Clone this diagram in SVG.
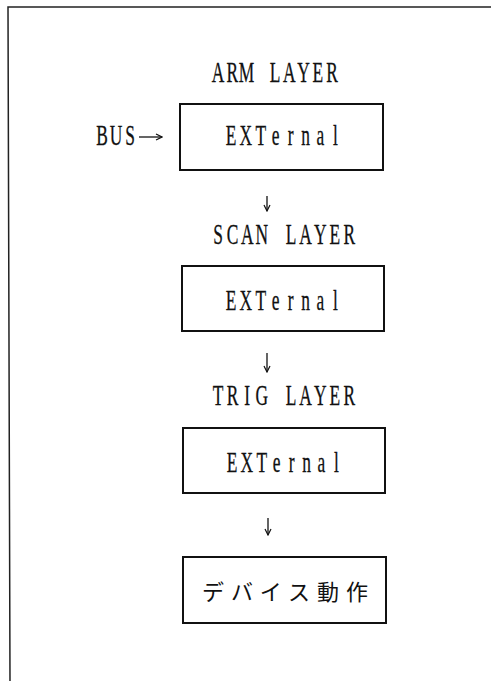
<svg xmlns="http://www.w3.org/2000/svg" width="491" height="681" viewBox="0 0 491 681">
<style>
.lbl{font-family:"Liberation Serif","Times New Roman",serif;font-size:29px;fill:#111;stroke:#111;stroke-width:0.3;text-anchor:middle;}
.jp{font-family:"Noto Sans CJK JP","Noto Sans CJK SC",sans-serif;font-size:22px;fill:#111;}
.box{fill:#fff;stroke:#111;stroke-width:2;}
.conn{fill:none;stroke:#111;stroke-width:1.3;}
</style>
<defs>
<marker id="ah" markerWidth="8" markerHeight="8" refX="7" refY="4" orient="auto" markerUnits="userSpaceOnUse">
<path d="M1,1 L7,4 L1,7" fill="none" stroke="#111" stroke-width="1.2"/>
</marker>
</defs>
<rect width="491" height="681" fill="#fff"/>
<g id="frame">
<path d="M491,7 L8,7 L10,681" fill="none" stroke="#222" stroke-width="1.5"/>
</g>
<g id="arm">
<text class="lbl" transform="translate(218,0) scale(0.6,1)" x="0 23.75 47.5 71.25 95 118.75 142.5 166.25 190" y="82">ARM LAYER</text>
<rect class="box" x="180" y="104" width="203" height="66"/>
<text class="lbl" transform="translate(231,0) scale(0.6,1)" x="0 24.83 49.67 74.5 99.33 124.17 149 173.83" y="145">EXTernal</text>
</g>
<g id="bus">
<text class="lbl" transform="translate(102,0) scale(0.6,1)" x="0 23.33 46.67" y="145">BUS</text>
</g>
<g id="scan">
<text class="lbl" transform="translate(218,0) scale(0.6,1)" x="0 24.33 48.67 73 97.33 121.67 146 170.33 194.67 219" y="244">SCAN LAYER</text>
<rect class="box" x="182" y="266" width="202" height="65"/>
<text class="lbl" transform="translate(231,0) scale(0.6,1)" x="0 24.83 49.67 74.5 99.33 124.17 149 173.83" y="310">EXTernal</text>
</g>
<g id="trig">
<text class="lbl" transform="translate(218,0) scale(0.6,1)" x="0 24.33 48.67 73 97.33 121.67 146 170.33 194.67 219" y="405">TRIG LAYER</text>
<rect class="box" x="183" y="428" width="202" height="65"/>
<text class="lbl" transform="translate(232,0) scale(0.6,1)" x="0 24.83 49.67 74.5 99.33 124.17 149 173.83" y="472">EXTernal</text>
</g>
<g id="device">
<rect class="box" x="183" y="557" width="203" height="66"/>
<text class="jp" x="202" y="600" textLength="166" lengthAdjust="spacing">デバイス動作</text>
</g>
<g id="connectors">
<line class="conn" x1="139" y1="137" x2="162" y2="137" marker-end="url(#ah)"/>
<line class="conn" x1="267" y1="196" x2="267" y2="211" marker-end="url(#ah)"/>
<line class="conn" x1="267" y1="353" x2="267" y2="372" marker-end="url(#ah)"/>
<line class="conn" x1="268" y1="518" x2="268" y2="535" marker-end="url(#ah)"/>
</g>
</svg>
